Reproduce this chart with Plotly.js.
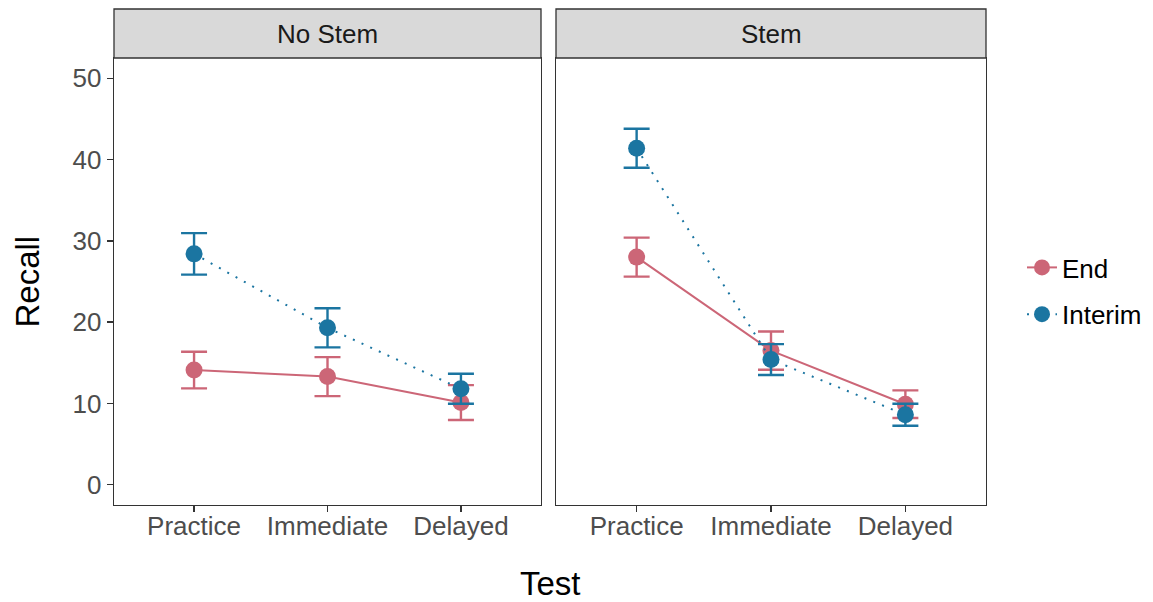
<!DOCTYPE html>
<html>
<head>
<meta charset="utf-8">
<script src="https://cdn.plot.ly/plotly-3.0.1.min.js"></script>
<style>html,body{margin:0;padding:0;background:#fff;}#chart{width:1153px;height:602px;}</style>
</head>
<body>
<div id="chart"></div>
<script>
// ---- data ----
const tests = ["Practice", "Immediate", "Delayed"];
const panels = ["No Stem", "Stem"];
const groups = ["End", "Interim"];

const noStemEnd = [14.1, 13.3, 10.1];
const noStemEndErr = [2.25, 2.4, 2.15];
const noStemInterim = [28.4, 19.3, 11.8];
const noStemInterimErr = [2.55, 2.4, 1.85];

const stemEnd = [28.0, 16.5, 9.9];
const stemEndErr = [2.4, 2.35, 1.7];
const stemInterim = [41.4, 15.4, 8.6];
const stemInterimErr = [2.4, 1.9, 1.35];

const yTicks = [0, 10, 20, 30, 40, 50];

// ---- styling ----
const colors = {End: "#CC6677", Interim: "#1B75A1"};
const dashes = {End: "solid", Interim: "2px,7.5px"};
const W = 1153, H = 602;
const px = v => v / W;
const py = v => (H - v) / H;
const font = "Liberation Sans, Arial, sans-serif";

function trace(name, x, y, err, xa, ya, showleg) {
  return {
    type: "scatter", mode: "lines+markers", name: name,
    x: x, y: y, xaxis: xa, yaxis: ya, showlegend: showleg,
    legendgroup: name,
    line: {color: colors[name], width: 2, dash: dashes[name]},
    marker: {color: colors[name], size: 17},
    error_y: {type: "data", array: err, visible: true, color: colors[name], thickness: 2.4, width: 13}
  };
}

const data = [
  trace("End", tests, noStemEnd, noStemEndErr, "x", "y", true),
  trace("Interim", tests, noStemInterim, noStemInterimErr, "x", "y", true),
  trace("End", tests, stemEnd, stemEndErr, "x2", "y2", false),
  trace("Interim", tests, stemInterim, stemInterimErr, "x2", "y2", false)
];

const yDom = [py(505), py(58)];
const xAxisCommon = {
  type: "category", range: [-0.6, 2.6], showgrid: false, zeroline: false,
  showline: true, mirror: true, linecolor: "#333333", linewidth: 1.3,
  ticks: "outside", ticklen: 6, tickwidth: 1.3, tickcolor: "#333333",
  ticklabelstandoff: -9,
  tickfont: {family: font, size: 26, color: "#4D4D4D"}, fixedrange: true
};
const yAxisCommon = {
  range: [-2.5, 52.5], tickvals: yTicks, showgrid: false, zeroline: false,
  showline: true, mirror: true, linecolor: "#333333", linewidth: 1.3,
  ticks: "outside", ticklen: 6, tickwidth: 1.3, tickcolor: "#333333",
  tickfont: {family: font, size: 26, color: "#4D4D4D"}, fixedrange: true, domain: yDom
};

const layout = {
  width: W, height: H,
  margin: {l: 0, r: 0, t: 0, b: 0},
  paper_bgcolor: "#ffffff", plot_bgcolor: "#ffffff",
  font: {family: font, color: "#000"},
  xaxis: Object.assign({}, xAxisCommon, {domain: [px(114), px(541)], anchor: "y"}),
  xaxis2: Object.assign({}, xAxisCommon, {domain: [px(556), px(986)], anchor: "y2"}),
  yaxis: Object.assign({}, yAxisCommon, {anchor: "x"}),
  yaxis2: Object.assign({}, yAxisCommon, {anchor: "x2", showticklabels: false, ticks: ""}),
  showlegend: true,
  legend: {
    x: px(1022), y: py(244), xanchor: "left", yanchor: "top",
    font: {family: font, size: 26, color: "#000"},
    bgcolor: "rgba(0,0,0,0)", tracegroupgap: 10
  },
  shapes: [
    {type: "rect", xref: "paper", yref: "paper", x0: px(114), x1: px(541), y0: py(58), y1: py(9),
     fillcolor: "#D9D9D9", line: {color: "#333333", width: 1.3}},
    {type: "rect", xref: "paper", yref: "paper", x0: px(556), x1: px(986), y0: py(58), y1: py(9),
     fillcolor: "#D9D9D9", line: {color: "#333333", width: 1.3}}
  ],
  annotations: [
    {text: panels[0], xref: "paper", yref: "paper", x: px(327.5), y: py(34), showarrow: false,
     xanchor: "center", yanchor: "middle", font: {family: font, size: 26, color: "#1A1A1A"}},
    {text: panels[1], xref: "paper", yref: "paper", x: px(771), y: py(34), showarrow: false,
     xanchor: "center", yanchor: "middle", font: {family: font, size: 26, color: "#1A1A1A"}},
    {text: "Recall", xref: "paper", yref: "paper", x: px(27), y: py(281.5), showarrow: false,
     textangle: -90, xanchor: "center", yanchor: "middle", font: {family: font, size: 33, color: "#000"}},
    {text: "Test", xref: "paper", yref: "paper", x: px(550), y: py(583), showarrow: false,
     xanchor: "center", yanchor: "middle", font: {family: font, size: 33, color: "#000"}}
  ]
};

Plotly.newPlot("chart", data, layout, {staticPlot: true, displayModeBar: false});
</script>
</body>
</html>
